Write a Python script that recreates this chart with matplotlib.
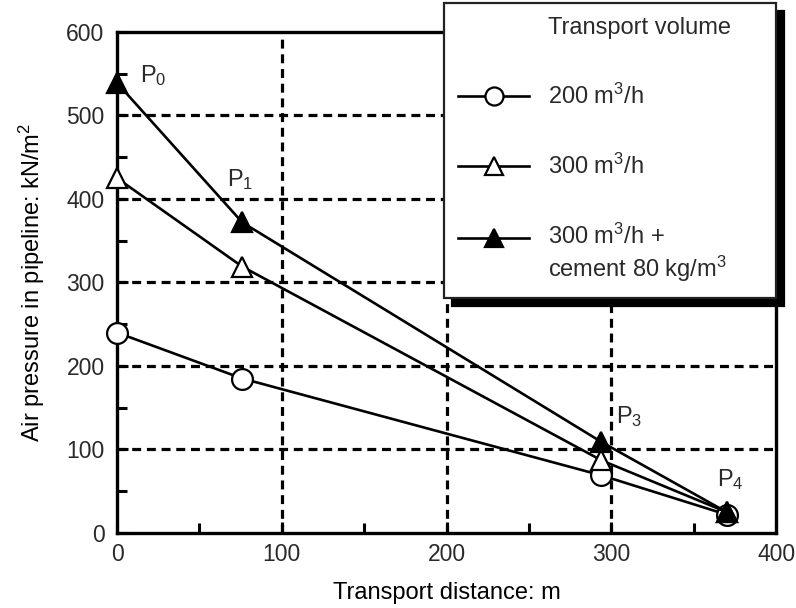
import numpy as np
import matplotlib
matplotlib.use('Agg')
import matplotlib.pyplot as plt
import matplotlib.transforms as mtransforms
from matplotlib.legend_handler import HandlerLine2D

plt.rcParams['font.family'] = ['Liberation Sans', 'DejaVu Sans']
plt.rcParams['mathtext.fontset'] = 'custom'
plt.rcParams['mathtext.rm'] = 'Liberation Sans'
plt.rcParams['mathtext.it'] = 'Liberation Sans'
plt.rcParams['text.color'] = '#2a2a2a'

# measuring points P0, P1, P3, P4 along the line (m)
distance = [0, 76, 294, 370]
p_200 = [240, 185, 69, 22]
p_300 = [425, 319, 87, 25]
p_300_cement = [539, 372, 109, 25]

point_names = ['P$_0$', 'P$_1$', 'P$_3$', 'P$_4$']
point_label_x = [14, 67, 303, 364]
point_label_y = [548, 423, 139, 64]

series_labels = ['200 m$^3$/h', '300 m$^3$/h', '300 m$^3$/h +\ncement 80 kg/m$^3$']

FS = 17


class FirstLineHandler(HandlerLine2D):
    # keep the handle level with the first line of a two-line label
    def create_artists(self, legend, orig_handle, xdescent, ydescent,
                       width, height, fontsize, trans):
        artists = super().create_artists(legend, orig_handle, xdescent, ydescent,
                                         width, height, fontsize, trans)
        up = mtransforms.Affine2D().translate(0, 0.68 * fontsize) + trans
        for a in artists:
            a.set_transform(up)
        return artists


fig = plt.figure(figsize=(7.96, 6.08), dpi=100)
ax = fig.add_axes([0.147, 0.1234, 0.828, 0.824])

# dashed grid at every 100
for gx in [100, 200, 300]:
    ax.axvline(gx, color='black', lw=2.3, ls=(0, (2.8, 1.8)), zorder=1)
for gy in [100, 200, 300, 400, 500]:
    ax.axhline(gy, color='black', lw=2.3, ls=(0, (2.8, 1.8)), zorder=1)

ax.plot([], [], ls='none', marker='none', label='Transport volume')
ax.plot(distance, p_200, '-', color='black', lw=1.9, marker='o', ms=15,
        mfc='white', mec='black', mew=1.6, clip_on=False, zorder=3,
        label=series_labels[0])
ax.plot(distance, p_300, '-', color='black', lw=1.9, marker='^', ms=15,
        mfc='white', mec='black', mew=1.6, clip_on=False, zorder=4,
        label=series_labels[1])
l3, = ax.plot(distance, p_300_cement, '-', color='black', lw=1.9, marker='^', ms=15,
              mfc='black', mec='black', mew=1.6, clip_on=False, zorder=5,
              label=series_labels[2])

for name, tx, ty in zip(point_names, point_label_x, point_label_y):
    ax.text(tx, ty, name, fontsize=FS, va='center', ha='left', zorder=6)

ax.set_xlim(0, 400)
ax.set_ylim(0, 600)
ax.set_xticks([0, 100, 200, 300, 400])
ax.set_yticks([0, 100, 200, 300, 400, 500, 600])
ax.set_xticks([50, 150, 250, 350], minor=True)
ax.set_yticks([50, 150, 250, 350, 450, 550], minor=True)
ax.tick_params(which='major', direction='in', length=8, width=2.2,
               labelsize=16.5, labelcolor='#2a2a2a')
ax.tick_params(which='minor', direction='in', length=7, width=2.2)
ax.tick_params(axis='y', pad=9)
ax.tick_params(axis='x', pad=7)
for sp in ax.spines.values():
    sp.set_linewidth(2.4)

ax.set_xlabel('Transport distance: m', fontsize=FS, labelpad=12)
ax.set_ylabel('Air pressure in pipeline: kN/m$^2$', fontsize=FS, labelpad=14)

leg = ax.legend(loc='upper left',
                bbox_to_anchor=(444 / 796, 0, 332 / 796, 1 - 3 / 608),
                bbox_transform=fig.transFigure, borderaxespad=0, mode='expand',
                fontsize=FS, handlelength=3.0, handletextpad=0.8,
                labelspacing=1.9, borderpad=0.6, fancybox=False,
                handler_map={l3: FirstLineHandler()},
                shadow={'ox': 5.5, 'oy': -5.5, 'facecolor': 'black',
                        'edgecolor': 'black', 'alpha': 1})
leg.get_frame().set_edgecolor('#222222')
leg.get_frame().set_linewidth(1.6)
leg.set_zorder(10)
for h in leg.legend_handles:
    h.set_markersize(13)

fig.savefig('out.png', dpi=100)
